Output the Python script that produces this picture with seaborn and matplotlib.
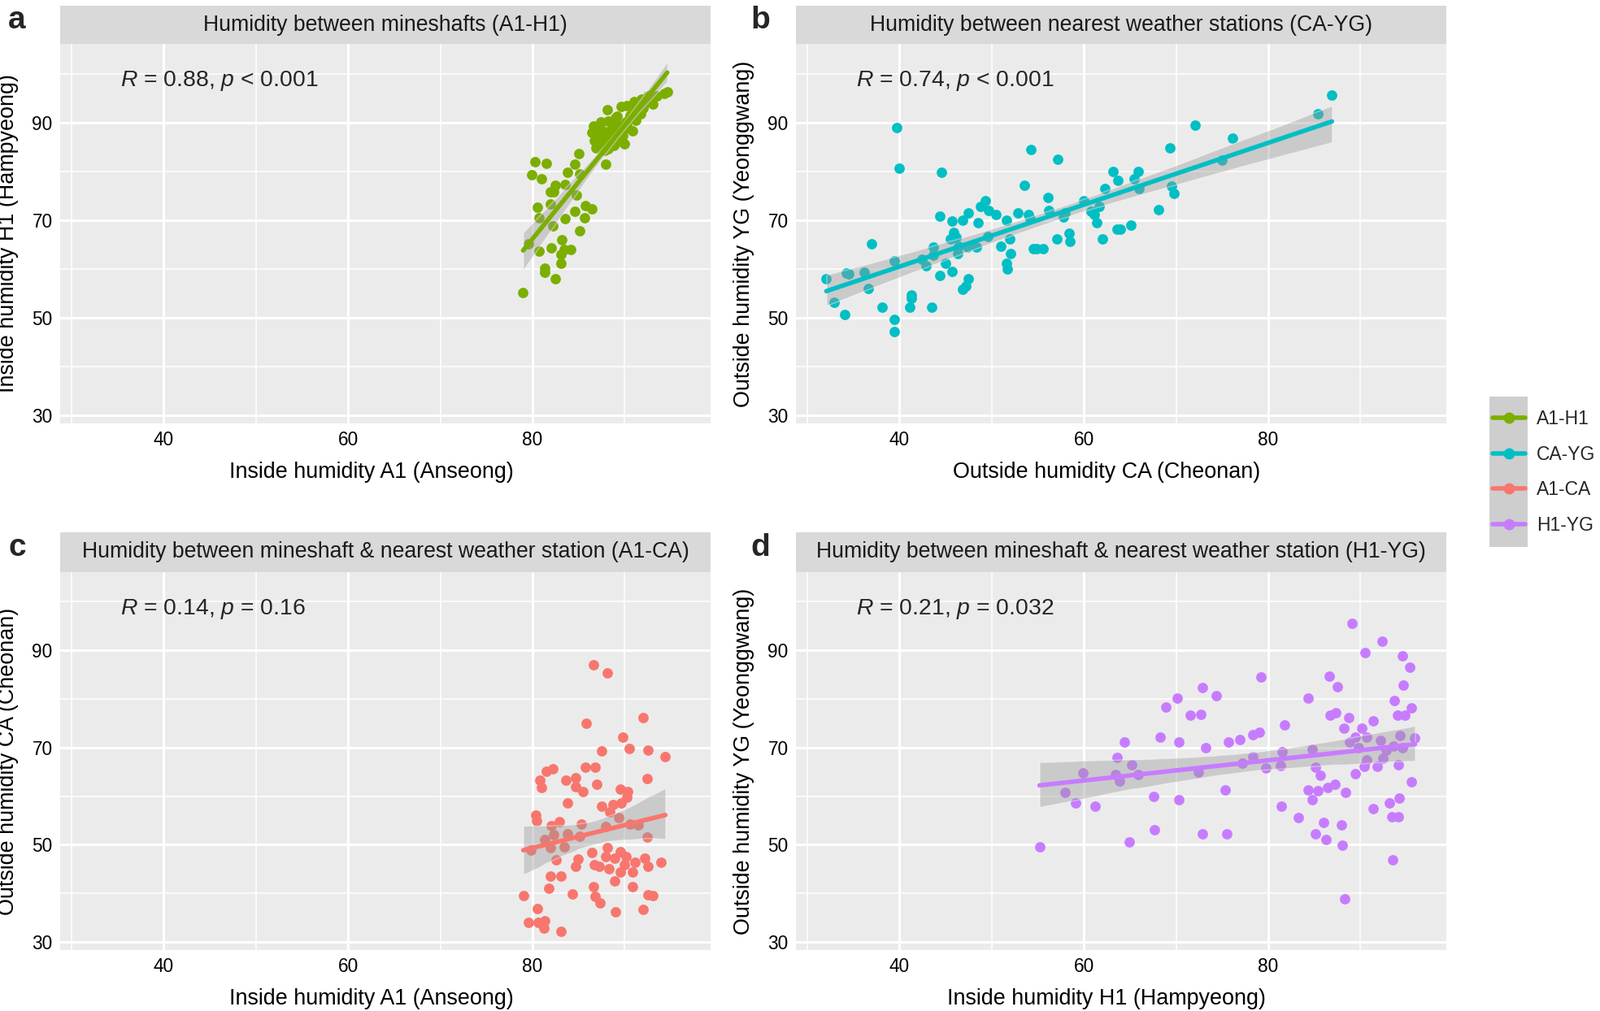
import numpy as np
import pandas as pd
import seaborn as sns
import matplotlib.pyplot as plt
from matplotlib.lines import Line2D
from matplotlib.patches import Rectangle
from matplotlib.collections import PolyCollection
from matplotlib.ticker import FixedLocator

# ---- data ----
a1_h1_x = [78.98, 82.5, 81.3, 81.3, 83.1, 80.7, 79.6, 82.0, 83.2, 83.4, 84.1, 83.1, 85.1, 82.2,
           80.7, 80.5, 81.9, 83.5, 84.6, 85.6, 86.4, 85.7, 84.8, 82.3, 81.9, 82.5, 83.5, 79.9,
           81.0, 80.3, 81.5, 83.8, 85.1, 84.6, 85.0, 87.9, 86.6, 87.4, 88.1, 86.7, 86.9, 87.6,
           88.5, 89.0, 88.2, 89.5, 89.9, 89.6, 90.2, 90.8, 90.5, 91.7, 91.8, 92.5, 93.0, 94.3,
           94.6, 89.2, 88.6, 87.0, 88.9, 90.1, 91.1, 92.2, 86.4, 87.5, 88.0, 88.3, 89.0, 89.4,
           89.8, 90.3, 90.6, 91.2, 91.5, 89.0, 88.2, 87.2, 87.8, 88.8, 90.0, 86.8, 90.8, 92.0,
           92.8, 93.5, 91.0]
a1_h1_y = [55.2, 58.0, 59.3, 60.1, 61.2, 63.7, 65.1, 64.3, 65.9, 64.0, 64.0, 62.9, 67.8, 68.7,
           70.4, 72.6, 73.2, 70.2, 71.8, 70.4, 72.3, 73.0, 75.1, 75.7, 75.7, 77.1, 77.3, 79.3,
           78.4, 81.9, 81.6, 79.7, 79.4, 81.5, 83.6, 81.5, 89.3, 90.1, 92.6, 86.2, 84.8, 86.2,
           88.4, 85.7, 84.6, 86.8, 88.4, 93.2, 93.4, 88.2, 90.7, 91.8, 94.8, 95.4, 93.7, 95.9,
           96.2, 91.2, 89.8, 87.3, 87.3, 90.1, 92.9, 94.0, 87.9, 88.5, 87.0, 86.0, 88.0, 89.5,
           87.2, 89.0, 91.5, 90.5, 92.5, 91.0, 90.3, 85.5, 84.2, 85.2, 85.6, 88.0, 93.5, 93.0,
           95.0, 95.5, 94.3]

ca_yg_x = [32.1, 32.9, 34.1, 34.3, 34.5, 36.2, 36.6, 37.0, 38.1, 39.5, 39.7, 40.0, 39.5, 39.5,
           41.1, 41.3, 41.3, 42.5, 42.9, 43.5, 43.7, 43.7, 44.4, 44.4, 44.6, 45.0, 45.7, 45.5,
           45.7, 45.9, 46.2, 46.3, 46.4, 46.9, 47.2, 47.5, 46.9, 47.5, 47.4, 48.4, 48.5, 48.8,
           49.3, 49.7, 49.6, 50.5, 51.0, 51.6, 51.6, 51.7, 52.0, 52.1, 52.9, 53.6, 54.0, 54.3,
           54.5, 54.9, 55.6, 54.2, 56.1, 56.2, 57.1, 57.2, 57.8, 58.0, 58.4, 58.5, 60.0, 60.8,
           61.1, 61.4, 61.7, 62.0, 62.3, 63.2, 63.6, 63.7, 64.0, 65.1, 65.5, 65.9, 66.0, 68.1,
           69.3, 69.5, 69.8, 72.1, 75.0, 76.1, 85.4, 86.9]
ca_yg_y = [58.0, 53.1, 50.6, 59.2, 58.9, 59.3, 56.0, 65.2, 52.1, 61.7, 88.9, 80.6, 49.6, 47.1,
           52.2, 54.6, 53.9, 62.0, 60.6, 52.2, 64.5, 62.8, 70.7, 58.6, 79.7, 61.1, 59.5, 66.1,
           69.7, 67.5, 66.4, 63.1, 64.7, 55.8, 56.4, 58.0, 70.0, 71.5, 64.5, 64.5, 69.5, 72.8,
           73.9, 72.0, 66.7, 71.1, 64.6, 70.0, 61.1, 60.0, 66.1, 63.1, 71.5, 77.1, 71.1, 84.5,
           64.2, 64.1, 64.2, 70.3, 74.6, 72.0, 66.1, 82.4, 70.6, 71.4, 67.2, 65.6, 73.9, 71.7,
           71.1, 69.5, 72.8, 66.1, 76.5, 80.0, 68.1, 78.1, 68.1, 68.9, 78.5, 80.0, 76.5, 72.1,
           84.7, 77.0, 75.4, 89.5, 82.2, 86.7, 91.8, 95.6]

a1_ca_x = [86.6, 88.1, 85.8, 92.0, 89.8, 90.5, 87.5, 92.5, 94.4, 82.2, 81.5, 80.8, 81.0, 83.6,
           84.7, 84.7, 85.7, 86.8, 87.0, 85.5, 92.4, 89.5, 90.3, 90.2, 83.8, 87.5, 88.7, 88.4,
           89.6, 80.35, 80.4, 82.0, 82.9, 82.3, 83.8, 81.3, 85.3, 85.1, 87.9, 89.3, 90.6, 91.5,
           92.4, 79.8, 81.9, 83.4, 82.6, 84.9, 84.7, 86.4, 86.7, 87.2, 88.1, 87.9, 88.3, 88.9,
           89.5, 90.1, 91.1, 90.0, 89.5, 90.8, 88.9, 92.2, 92.5, 93.9, 81.9, 83.1, 81.8, 84.3,
           86.6, 86.8, 87.3, 90.8, 92.5, 93.0, 79.0, 80.5, 79.6, 80.6, 81.3, 81.2, 83.1, 89.0,
           92.0]
a1_ca_y = [87.1, 85.3, 74.9, 76.1, 72.1, 69.8, 69.3, 69.4, 68.2, 65.6, 65.1, 63.2, 61.8, 63.2,
           63.8, 62.0, 65.9, 65.9, 62.5, 60.9, 63.6, 61.4, 60.9, 59.7, 58.5, 57.9, 58.2, 56.8,
           58.5, 56.1, 54.9, 53.9, 54.8, 52.1, 52.2, 51.0, 54.3, 51.7, 53.7, 55.5, 54.3, 54.0,
           51.6, 48.8, 49.3, 49.5, 46.9, 47.0, 45.6, 48.3, 45.9, 45.5, 49.3, 47.6, 45.0, 47.2,
           48.5, 47.6, 46.3, 45.8, 44.4, 44.4, 42.6, 47.2, 45.6, 46.3, 43.5, 43.5, 41.0, 39.9,
           41.3, 39.4, 38.0, 41.3, 39.7, 39.5, 39.5, 36.9, 34.0, 34.0, 34.4, 32.9, 32.1, 36.1,
           36.6]

h1_yg_x = [55.2, 58.0, 59.1, 59.9, 61.2, 63.4, 63.9, 63.6, 64.4, 65.2, 65.9, 64.9, 67.6, 67.7,
           68.3, 68.9, 70.1, 70.3, 70.3, 71.5, 72.7, 72.9, 73.2, 72.4, 72.9, 74.4, 75.3, 75.5,
           75.7, 76.9, 77.2, 78.3, 78.3, 79.0, 79.2, 79.7, 81.3, 81.5, 81.4, 81.8, 83.3, 84.3,
           84.8, 85.1, 85.6, 84.3, 84.8, 85.4, 86.4, 87.2, 86.0, 85.1, 86.3, 86.6, 87.5, 86.7,
           87.3, 88.7, 88.2, 88.4, 87.9, 88.0, 88.3, 89.1, 88.8, 89.4, 89.8, 90.1, 90.5, 90.7,
           89.4, 90.4, 90.7, 91.4, 91.8, 91.4, 92.2, 92.3, 92.4, 93.1, 93.4, 94.1, 93.5, 93.7,
           94.0, 94.8, 94.1, 94.2, 94.3, 94.5, 94.6, 95.3, 95.5, 95.5, 95.9, 93.6, 94.5, 92.8]
h1_yg_y = [49.6, 60.7, 58.6, 64.7, 57.9, 64.4, 63.1, 67.9, 71.2, 66.4, 64.4, 50.6, 60.0, 53.1,
           72.2, 78.4, 80.1, 71.2, 59.2, 76.7, 76.8, 82.3, 69.9, 64.9, 52.2, 80.7, 61.2, 52.2,
           71.2, 71.6, 66.7, 68.2, 72.7, 73.1, 84.6, 65.7, 66.2, 69.2, 57.9, 74.6, 55.6, 80.1,
           69.7, 66.0, 64.2, 61.2, 59.2, 61.1, 61.7, 62.5, 54.6, 52.2, 51.1, 84.7, 82.5, 76.6,
           77.1, 76.2, 74.0, 60.7, 54.0, 49.9, 38.9, 95.6, 71.1, 72.2, 70.0, 74.0, 89.6, 72.2,
           64.6, 66.1, 67.5, 75.4, 66.1, 57.4, 71.4, 91.8, 67.8, 58.6, 55.8, 55.8, 46.9, 79.7,
           76.7, 76.7, 66.4, 59.6, 72.5, 88.9, 82.8, 86.6, 78.1, 62.9, 71.9, 70.3, 70.0, 69.4]

pairs = ["A1-H1", "CA-YG", "A1-CA", "H1-YG"]
colors = ["#7CAE00", "#00BFC4", "#F8766D", "#C77CFF"]
titles = ["Humidity between mineshafts (A1-H1)",
          "Humidity between nearest weather stations (CA-YG)",
          "Humidity between mineshaft & nearest weather station (A1-CA)",
          "Humidity between mineshaft & nearest weather station (H1-YG)"]
x_labels = ["Inside humidity A1 (Anseong)", "Outside humidity CA (Cheonan)",
            "Inside humidity A1 (Anseong)", "Inside humidity H1 (Hampyeong)"]
y_labels = ["Inside humidity H1 (Hampyeong)", "Outside humidity YG (Yeonggwang)",
            "Outside humidity CA (Cheonan)", "Outside humidity YG (Yeonggwang)"]
cor_labels = ["$R$ = 0.88, $p$ < 0.001", "$R$ = 0.74, $p$ < 0.001",
              "$R$ = 0.14, $p$ = 0.16", "$R$ = 0.21, $p$ = 0.032"]
letters = ["a", "b", "c", "d"]
xs = [a1_h1_x, ca_yg_x, a1_ca_x, h1_yg_x]
ys = [a1_h1_y, ca_yg_y, a1_ca_y, h1_yg_y]

# ---- style ----
sns.set_style("darkgrid", {"axes.facecolor": "#EBEBEB", "grid.color": "white"})
plt.rcParams["font.family"] = ["Liberation Sans", "DejaVu Sans"]
plt.rcParams["mathtext.fontset"] = "custom"
plt.rcParams["mathtext.rm"] = "Liberation Sans"
plt.rcParams["mathtext.it"] = "Liberation Sans:italic"

W, H = 1968, 1244
fig = plt.figure(figsize=(W / 100, H / 100), dpi=100)


def px_axes(x0, y0, x1, y1):
    # pixel box, y measured from the top
    return fig.add_axes([x0 / W, 1 - y1 / H, (x1 - x0) / W, (y1 - y0) / H])


cols = [(74, 874), (979, 1779)]
rows = [(7, 54, 521), (655, 704, 1169)]  # strip top, plot top, plot bottom

for i in range(4):
    x0, x1 = cols[i % 2]
    st, pt, pb = rows[i // 2]
    ax = px_axes(x0, pt, x1, pb)
    strip = px_axes(x0, st, x1, pt)

    df = pd.DataFrame({"x": xs[i], "y": ys[i]})
    sns.regplot(data=df, x="x", y="y", ax=ax, color=colors[i], ci=95,
                n_boot=1000, seed=1,
                scatter_kws={"s": 85, "alpha": 1, "linewidths": 0, "zorder": 1},
                line_kws={"lw": 4, "zorder": 3})
    # ggplot-like grey confidence ribbon
    for coll in ax.collections:
        if isinstance(coll, PolyCollection):
            coll.set_facecolor("#999999")
            coll.set_alpha(0.4)
            coll.set_zorder(2)

    ax.set_xlim(28.8, 99.3)
    ax.set_ylim(28.3, 106.1)
    ax.xaxis.set_major_locator(FixedLocator([40, 60, 80]))
    ax.xaxis.set_minor_locator(FixedLocator([30, 50, 70, 90]))
    ax.yaxis.set_major_locator(FixedLocator([30, 50, 70, 90]))
    ax.yaxis.set_minor_locator(FixedLocator([40, 60, 80, 100]))
    ax.grid(which="major", color="white", lw=2.2)
    ax.grid(which="minor", color="white", lw=1.1)
    for s in ax.spines.values():
        s.set_visible(False)
    ax.tick_params(which="major", length=4.3, width=1.4, color="#333333",
                   pad=2.5, labelsize=16.3, labelcolor="black")
    ax.tick_params(which="minor", length=0)

    ax.set_xlabel(x_labels[i], fontsize=19.4, color="black")
    ax.set_ylabel(y_labels[i], fontsize=19.4, color="black")
    ax.xaxis.label.set_va("center")
    ax.yaxis.label.set_va("center")
    ax.xaxis.set_label_coords(0.478, -0.128)
    ax.yaxis.set_label_coords(-0.08, 0.5)

    ax.text(0.092, 0.902, cor_labels[i], transform=ax.transAxes, fontsize=20.4,
            ha="left", va="center")

    strip.set_facecolor("#D9D9D9")
    strip.set_xticks([])
    strip.set_yticks([])
    strip.grid(False)
    for s in strip.spines.values():
        s.set_visible(False)
    strip.text(0.5, 0.5, titles[i], transform=strip.transAxes, fontsize=19.2,
               ha="center", va="center", color="#1A1A1A")

    fig.text((21 if i % 2 == 0 else 935) / W, 1 - (25 if i < 2 else 674) / H,
             letters[i], fontsize=28, fontweight="bold", ha="center", va="center")

# ---- legend ----
fig.patches.append(Rectangle((1832 / W, 1 - 673 / H), 47 / W, 185 / H,
                             transform=fig.transFigure, facecolor="#CECECE",
                             edgecolor="none", zorder=0))
handles = [Line2D([], [], color=c, lw=4, marker="o", markersize=9) for c in colors]
fig.legend(handles, pairs, loc="center left", bbox_to_anchor=(1836 / W, 1 - 581 / H),
           frameon=False, fontsize=16.5, handlelength=1.75, handletextpad=0.6,
           labelspacing=0.9, borderpad=0, borderaxespad=0)

fig.savefig("out.png", dpi=100, facecolor="white")
